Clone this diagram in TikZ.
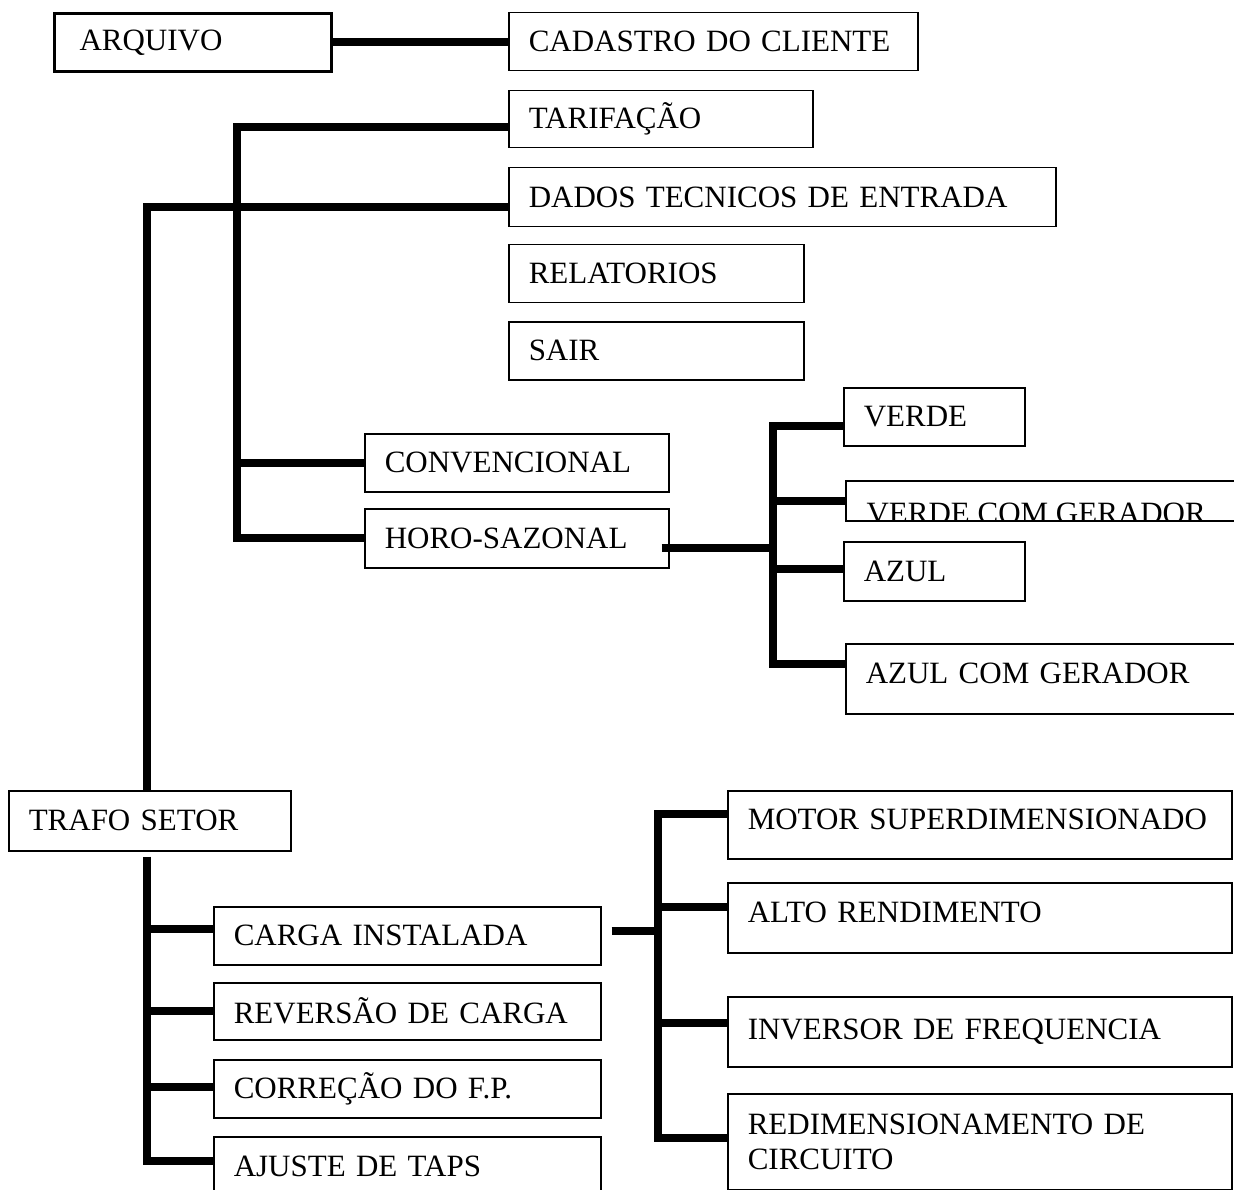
\documentclass[tikz,border=0pt]{standalone}
\usepackage{fontspec}
\setmainfont{Liberation Serif}
\usepackage{tikz}
\usetikzlibrary{positioning}

\begin{document}
\begin{tikzpicture}[
    x=1pt, y=-1pt,
    box/.style={draw, line width=1.5pt, anchor=north west,
                inner xsep=20pt, inner ysep=0pt, align=left,
                font=\fontsize{31}{35}\selectfont},
    thickbox/.style={box, line width=3pt, inner xsep=25pt},
    conn/.style={line width=8pt}
]
\clip (0,0) rectangle (1234,1190);

% ── Arquivo (top) ──
\node[thickbox, text width=227pt, minimum height=58pt] (arquivo) at (53,12) {ARQUIVO};
\node[box, text width=369pt, minimum height=58pt] (cadastro) at (508,12) {CADASTRO DO CLIENTE};
\node[box, text width=264pt, minimum height=57pt] (tarif) at (508,90) {TARIFAÇÃO};
\node[box, text width=507pt, minimum height=59pt] (dados) at (508,167) {DADOS TECNICOS DE ENTRADA};
\node[box, text width=255pt, minimum height=58pt] (relat) at (508,244) {RELATORIOS};
\node[box, text width=255pt, minimum height=58pt] (sair) at (508,321) {SAIR};

\draw[conn] (arquivo.east) -- (arquivo.east -| cadastro.west);

% ── Tarifacao ──
\node[box, text width=264pt, minimum height=58pt] (conv) at (364,433) {CONVENCIONAL};
\node[box, text width=264pt, minimum height=59pt] (horo) at (364,508) {HORO-SAZONAL};

\draw[conn] ([yshift=-8pt]tarif.west) -| ([xshift=-127pt]horo.west) -- (horo.west);
\draw[conn] (conv.west) -- ++(-124,0);

% ── Horo-sazonal ──
\node[box, text width=141pt, minimum height=58pt] (verde) at (843,387) {VERDE};
\node[box, minimum width=400pt, minimum height=40pt,
      path picture={\node[anchor=base west, inner sep=0pt, minimum width=0pt,
                          minimum height=0pt, font=\fontsize{31}{35}\selectfont] (vcgtext)
                    at ([xshift=20pt,yshift=-3pt]path picture bounding box.south west)
                    {VERDE COM GERADOR};}] (vcg) at (845,480) {};
\node[box, text width=141pt, minimum height=59pt] (azul) at (843,541) {AZUL};
\node[box, text width=360pt, minimum height=70pt, text depth=12pt] (acg) at (845,643) {AZUL COM GERADOR};

\draw[conn] ([xshift=-8pt,yshift=-10pt]horo.east) -- ++(113,0);
\draw[conn] ([yshift=-9pt]verde.west) -| ([xshift=-72pt,yshift=15pt]acg.west) -- ([yshift=15pt]acg.west);
\draw[conn] (vcg.west) -- ++(-72,0);
\draw[conn] ([yshift=2pt]azul.west) -- ++(-70,0);

% ── Trafo setor ──
\node[box, text width=242pt, minimum height=60pt] (trafo) at (8,790) {TRAFO SETOR};
\draw[conn] ([yshift=-10pt]dados.west) -| ([xshift=-3pt]trafo.north);

\node[box, text width=347pt, minimum height=58pt] (carga) at (213,906) {CARGA INSTALADA};
\node[box, text width=347pt, minimum height=57pt] (rev) at (213,982) {REVERSÃO DE CARGA};
\node[box, text width=347pt, minimum height=58pt] (corr) at (213,1059) {CORREÇÃO DO F.P.};
\node[box, text width=347pt, minimum height=60pt] (ajuste) at (213,1136) {AJUSTE DE TAPS};

\draw[conn] ([xshift=-3pt,yshift=-5pt]trafo.south) |- ([yshift=6pt]ajuste.west);
\draw[conn] ([yshift=7pt]carga.west) -- ++(-67,0);
\draw[conn] (rev.west) -- ++(-67,0);
\draw[conn] ([yshift=2pt]corr.west) -- ++(-67,0);

% ── Carga instalada ──
\node[box, text width=464pt, minimum height=68pt, text depth=12pt] (motor) at (727,790) {MOTOR SUPERDIMENSIONADO};
\node[box, text width=464pt, minimum height=70pt, text depth=12pt] (alto) at (727,882) {ALTO RENDIMENTO};
\node[box, text width=464pt, minimum height=70pt] (inv) at (727,996) {INVERSOR DE FREQUENCIA};
\node[box, text width=464pt, minimum height=96pt] (redim) at (727,1093) {REDIMENSIONAMENTO DE\\CIRCUITO};

\draw[conn] ([xshift=10pt,yshift=5pt]carga.east) -- ++(48,0);
\draw[conn] ([yshift=11pt]motor.west) -| ([xshift=-69pt,yshift=4pt]redim.west) -- ([yshift=4pt]redim.west);
\draw[conn] ([yshift=11pt]alto.west) -- ++(-69,0);
\draw[conn] ([yshift=9pt]inv.west) -- ++(-69,0);

\end{tikzpicture}
\end{document}
